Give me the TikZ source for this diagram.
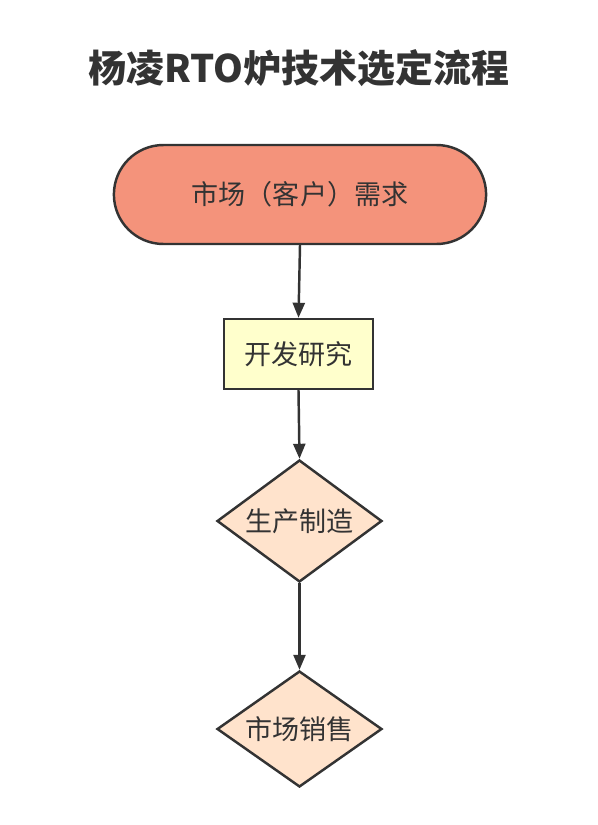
\documentclass[tikz,border=0pt]{standalone}
\usepackage{fontspec}
\setmainfont{Noto Sans CJK SC}
\usepackage{tikz}
\usetikzlibrary{shapes.geometric, shapes.misc, arrows.meta}

\definecolor{inkgray}{HTML}{333333}
\definecolor{salmonfill}{HTML}{F4937B}
\definecolor{paleyellow}{HTML}{FFFFCC}
\definecolor{peachfill}{HTML}{FFE3CC}

\begin{document}
\begin{tikzpicture}[
    x=0.02cm, y=-0.02cm,
    terminal/.style={rounded rectangle, rounded rectangle arc length=180, draw=inkgray, fill=salmonfill, line width=1.4pt, minimum width=7.68cm, minimum height=1.98cm, text=inkgray, font=\fontsize{15.4}{18}\selectfont},
    process/.style={rectangle, draw=inkgray, fill=paleyellow, line width=1.4pt, minimum width=2.98cm, minimum height=1.40cm, text=inkgray, font=\fontsize{15.4}{18}\selectfont},
    decision/.style={diamond, aspect=1.35, inner sep=0pt, draw=inkgray, fill=peachfill, line width=1.4pt, minimum width=3.3cm, text=inkgray, font=\fontsize{15.4}{18}\selectfont},
    flowline/.style={draw=inkgray, line width=1.4pt, -{Triangle[length=0.3cm, width=0.24cm]}}
]

% ─── Canvas ─────────────────────────────────────────────────────────
\useasboundingbox[fill=white] (0, 0) rectangle (598, 825);

% ─── Title ──────────────────────────────────────────────────────────
\node[text=inkgray, font=\fontsize{21.6}{25}\selectfont\bfseries] (title) at (299, 68) {杨凌RTO炉技术选定流程};

% ─── Flow Steps ─────────────────────────────────────────────────────
\node[terminal] (demand) at (300, 194.5) {市场（客户）需求};
\node[process] (research) at (298.5, 354) {开发研究};
\node[decision, minimum height=2.44cm] (making) at (299.5, 521) {生产制造};
\node[decision, minimum height=2.32cm] (sales) at (299.5, 729) {市场销售};

% ─── Connectors ─────────────────────────────────────────────────────
\draw[flowline] (demand.south) -- (research.north);
\draw[flowline] (research.south) -- (making.north);
\draw[flowline] (making.south) -- (sales.north);

\end{tikzpicture}
\end{document}
